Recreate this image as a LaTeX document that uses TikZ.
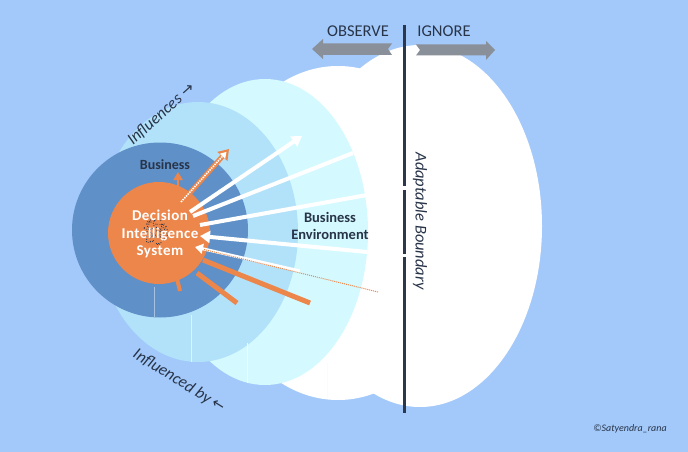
\documentclass[tikz,border=0pt]{standalone}
\usepackage{fontspec}
\setmainfont{Carlito}
\newfontfamily\djv{DejaVu Sans}
\usetikzlibrary{arrows.meta,calc}
\definecolor{bg}{HTML}{A3C9FA}
\definecolor{lblue}{HTML}{B2E2FA}
\definecolor{cyanE}{HTML}{D4FAFF}
\definecolor{dblue}{HTML}{5F90C8}
\definecolor{orng}{HTML}{EC864A}
\definecolor{ink}{HTML}{283448}
\definecolor{garrow}{HTML}{8A9099}
\definecolor{bline}{HTML}{2D374B}
\tikzset{
  lbl/.style={text=ink, inner sep=0pt},
  boldlbl/.style={lbl, font=\bfseries\fontsize{14}{17.5}\selectfont, align=center},
  whiteray/.style={white, line width=4pt},
  orangeray/.style={orng, line width=5pt},
  seam/.style={line width=0.6pt},
}
\begin{document}
\begin{tikzpicture}[x=1pt,y=-1pt]
\useasboundingbox (0,0) rectangle (688,452);
\fill[bg] (0,0) rectangle (688,452);
% layered ellipses
\fill[white] (420,226) ellipse [x radius=122pt, y radius=181pt];
\fill[white] (338,233) ellipse [x radius=129pt, y radius=167pt];
\fill[cyanE] (265,232) ellipse [x radius=103pt, y radius=153pt];
\fill[lblue] (198,232) ellipse [x radius=100pt, y radius=130pt];
\fill[dblue] (160,230) ellipse [x radius=88pt, y radius=87.5pt];
% faint seams
\draw[seam, color=white!70!cyanE] (327,363) -- (327,398);
\draw[seam, color=white!60!cyanE] (247,343) -- (247,383);
\draw[seam, color=white!55!lblue] (191,315) -- (191,362);
\draw[seam, color=white!45!dblue] (154,287) -- (154,317);
% core
\node[circle, fill=orng, minimum size=102pt, inner sep=0pt] (dis) at (159,233) {};
\pgfmathsetseed{7}
\foreach \i in {1,...,90}{
  \pgfmathsetmacro{\ang}{rnd*360}
  \pgfmathsetmacro{\rad}{sqrt(rnd)*13}
  \fill[ink] ($(155,232)+(\ang:\rad pt)$) circle [radius=0.55pt];
}
% boundary line
\coordinate (bt) at (404,25);
\coordinate (bb) at (404,413);
\draw[bline, line width=3pt] (bt) -- (404,186) (404,190) -- (404,254) (404,257) -- (bb);
% observe / ignore arrows
\fill[garrow] (312,49) -- (323,39) -- (323,43.5) -- (392,43.5) -- (388,49) -- (392,55) -- (323,55) -- (323,59) -- cycle;
\fill[garrow] (495,50) -- (486,41) -- (486,44.5) -- (416,44.5) -- (420,50) -- (416,55.5) -- (486,55.5) -- (486,60) -- cycle;
% rays out of / into the core
\coordinate (r1s) at (178,189); \coordinate (r1e) at (178,172);
\draw[orng, line width=2.5pt, -{Triangle[length=8pt,width=9pt]}] (r1s) -- (r1e);
\coordinate (r2s) at (180,204); \coordinate (r2e) at (229,149);
\draw[orng, line width=5pt, -{Triangle[length=10pt,width=13pt]}] (r2s) -- (r2e);
\draw[white, line width=1.6pt, dash pattern=on 1.5pt off 1pt, -{Triangle[length=6pt,width=7pt]}] (181,202) -- ($(r2e)+(-2.5,2.8)$);
\coordinate (r3s) at (190,212); \coordinate (r3e) at (302,136);
\draw[whiteray, -{Triangle[length=10pt,width=12pt]}] (r3s) -- (r3e);
\coordinate (r4s) at (193,216); \coordinate (r4e) at (353,153);
\draw[whiteray] (r4s) -- (r4e);
\coordinate (r5s) at (200,225); \coordinate (r5e) at (367,195);
\draw[whiteray] (r5s) -- (r5e);
\coordinate (r6s) at (367,252); \coordinate (r6e) at (200,236);
\draw[whiteray, -{Triangle[length=10pt,width=12pt]}] (r6s) -- (r6e);
\coordinate (r7s) at (378,292); \coordinate (r7e) at (195,247);
\draw[white, line width=3pt, -{Triangle[length=8pt,width=10pt]}] (300,271) -- (r7e);
\draw[orng, line width=1pt, densely dotted] (r7s) -- (204,249.5);
\coordinate (r8s) at (203,260); \coordinate (r8e) at (310,303);
\draw[orangeray] (r8s) -- (r8e);
\coordinate (r9s) at (197,273); \coordinate (r9e) at (237,303);
\draw[orangeray] (r9s) -- (r9e);
\coordinate (r10s) at (177,279); \coordinate (r10e) at (180,291);
\draw[orng, line width=4pt] (r10s) -- (r10e);
% labels
\node[text=white, font=\bfseries\fontsize{15}{17.5}\selectfont\addfontfeature{LetterSpace=3}, align=center, inner sep=0pt] (distext) at (160,234) {Decision\\Intelligence\\System};
\node[boldlbl] (biz) at (165,165) {Business};
\node[boldlbl, font=\bfseries\fontsize{14.5}{17.5}\selectfont] (env) at (330,226) {Business\\Environment};
\node[lbl, font=\fontsize{16.5}{18}\selectfont] (obs) at (358,31) {OBSERVE};
\node[lbl, font=\fontsize{16.5}{18}\selectfont] (ign) at (444,31) {IGNORE};
\node[lbl, font=\itshape\fontsize{16.5}{18}\selectfont, rotate=-90] (ab) at (420,221) {Adaptable Boundary};
\node[lbl, font=\itshape\fontsize{16.5}{18}\selectfont, rotate=42] (infl) at (161,114) {Influences {\djv\fontsize{15}{16}\selectfont→}};
\node[lbl, font=\itshape\fontsize{16.5}{18}\selectfont, rotate=-32] (inflby) at (179,381) {Influenced by {\djv\fontsize{15}{16}\selectfont←}};
\node[lbl, font=\itshape\fontsize{10}{12}\selectfont] (copy) at (630,429) {©Satyendra\_rana};
\end{tikzpicture}
\end{document}
